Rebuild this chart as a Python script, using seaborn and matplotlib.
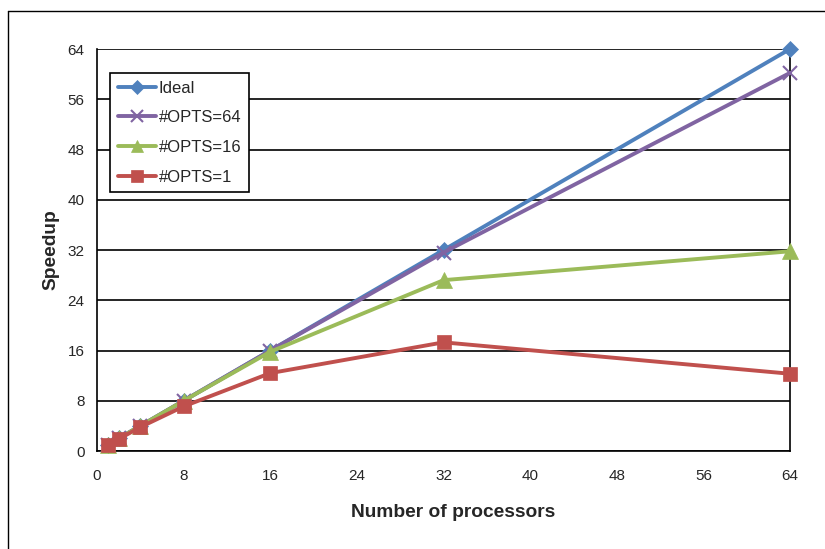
import numpy as np
import pandas as pd
import matplotlib
matplotlib.use("Agg")
import matplotlib.pyplot as plt
from matplotlib.lines import Line2D
import seaborn as sns

processors = [1, 2, 4, 8, 16, 32, 64]
ideal = [1, 2, 4, 8, 16, 32, 64]
opts64 = [1, 2, 4, 8, 16, 31.6, 60.2]
opts16 = [1, 2, 4, 8, 15.8, 27.2, 31.8]
opts1 = [1.0, 1.9, 3.8, 7.1, 12.4, 17.3, 12.3]

series = [
    ("Ideal", ideal, "#4F81BD", "D", 8.5),
    ("#OPTS=64", opts64, "#8064A2", "x", 10),
    ("#OPTS=16", opts16, "#9BBB59", "^", 11),
    ("#OPTS=1", opts1, "#C0504D", "s", 10),
]

sns.set_style("white")
plt.rcParams["font.family"] = ["Liberation Sans", "DejaVu Sans"]

fig = plt.figure(figsize=(8.25, 5.49), dpi=100)
ax = fig.add_axes([0.1176, 0.1785, 0.84, 0.7322])

for name, vals, col, mk, ms in series:
    df = pd.DataFrame({"procs": processors, "speedup": vals})
    sns.lineplot(data=df, x="procs", y="speedup", ax=ax, color=col, lw=2.8,
                 marker=mk, markersize=ms, markeredgecolor=col,
                 markeredgewidth=1.5 if mk == "x" else 0.5, label=name,
                 clip_on=False, zorder=5)

ax.set_xlim(0, 64)
ax.set_ylim(0, 64)
ax.set_xticks(np.arange(0, 65, 8))
ax.set_yticks(np.arange(0, 65, 8))
ax.yaxis.grid(True, color="black", lw=1.2)
ax.xaxis.grid(False)
for s in ax.spines.values():
    s.set_color("black")
    s.set_linewidth(1.2)
ax.spines["top"].set_visible(False)
ax.tick_params(axis="both", direction="out", length=5, width=1, color="black",
               labelsize=11, pad=8)
ax.tick_params(axis="y", pad=4)
ax.set_xlabel("Number of processors", fontsize=13.8, fontweight="bold", labelpad=15)
ax.xaxis.label.set_x(0.514)
ax.set_ylabel("Speedup", fontsize=13.8, fontweight="bold", labelpad=6)

leg = ax.legend(loc="upper left", bbox_to_anchor=(0.019, 0.94), fontsize=12,
                frameon=True, fancybox=False, handlelength=2.3, borderpad=0.45,
                labelspacing=0.88, handletextpad=0.15, borderaxespad=0,
                markerscale=0.85)
leg.get_frame().set_edgecolor("black")
leg.get_frame().set_linewidth(1.2)
leg.get_frame().set_alpha(1)

# outer chart border
fig.add_artist(Line2D([8 / 825, 8 / 825], [0, 1 - 11 / 549], color="black", lw=1))
fig.add_artist(Line2D([8 / 825, 1], [1 - 11 / 549, 1 - 11 / 549], color="black", lw=1))

fig.savefig("out.png", dpi=100)
